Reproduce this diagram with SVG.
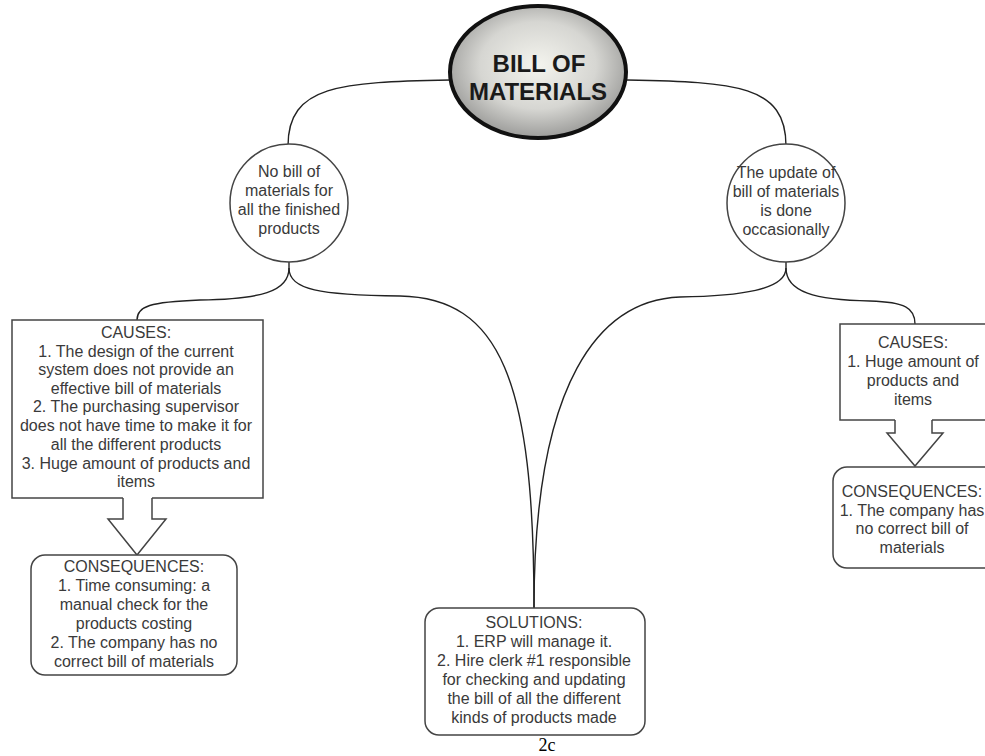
<svg xmlns="http://www.w3.org/2000/svg" width="985" height="756" viewBox="0 0 985 756">
<defs>
<radialGradient id="g" cx="50%" cy="45%" r="55%">
<stop offset="0" stop-color="#f4f4ee"/>
<stop offset="0.6" stop-color="#d6d6d2"/>
<stop offset="1" stop-color="#9c9c9a"/>
</radialGradient>
<style>
.t{font-family:"Liberation Sans",Arial,sans-serif;font-size:16px;fill:#3a3a3a;text-anchor:middle}
.title{font-family:"Liberation Sans",Arial,sans-serif;font-size:24px;font-weight:bold;fill:#1a1a1a;text-anchor:middle}
.box{fill:#fff;stroke:#444;stroke-width:1.5}
.c{fill:none;stroke:#222;stroke-width:1.4}
.arr{fill:#fff;stroke:#444;stroke-width:1.5;stroke-linejoin:miter}
</style>
</defs>
<rect width="985" height="756" fill="#fff"/>
<g id="connectors">
<path class="c" d="M450,80 C340,82 288,85 288,146"/>
<path class="c" d="M627,80 C736,82 786,85 786,146"/>
<path class="c" d="M289,262 L289,268 C289,292 260,299 200,300 C150,302 137,306 137,320"/>
<path class="c" d="M289,268 C289,290 320,295 400,296 C500,298 534,380 534,608"/>
<path class="c" d="M786,262 L786,268 C786,290 740,296 680,297 C600,300 534,380 534,608"/>
<path class="c" d="M786,268 C786,292 815,300 870,301 C905,302 915,308 915,324"/>
</g>
<g id="title">
<ellipse cx="538" cy="72" rx="88" ry="66" fill="url(#g)" stroke="#111" stroke-width="4"/>
<text class="title" x="539" y="72">BILL OF</text>
<text class="title" x="538" y="100">MATERIALS</text>
</g>
<g id="node-left">
<circle cx="289" cy="203" r="59" class="box"/>
<text class="t" x="289" y="177">No bill of</text>
<text class="t" x="289" y="196">materials for</text>
<text class="t" x="289" y="215">all the finished</text>
<text class="t" x="289" y="234">products</text>
</g>
<g id="node-right">
<circle cx="786" cy="203" r="59" class="box"/>
<text class="t" x="786" y="178">The update of</text>
<text class="t" x="786" y="197">bill of materials</text>
<text class="t" x="786" y="216">is done</text>
<text class="t" x="786" y="235">occasionally</text>
</g>
<g id="causes-left">
<rect x="12" y="320" width="251" height="178" class="box"/>
<text class="t" x="136" y="338">CAUSES:</text>
<text class="t" x="136" y="357">1. The design of the current</text>
<text class="t" x="136" y="375">system does not provide an</text>
<text class="t" x="136" y="394">effective bill of materials</text>
<text class="t" x="136" y="412">2. The purchasing supervisor</text>
<text class="t" x="136" y="431">does not have time to make it for</text>
<text class="t" x="136" y="450">all the different products</text>
<text class="t" x="136" y="469">3. Huge amount of products and</text>
<text class="t" x="136" y="487">items</text>
</g>
<g id="arrow-left">
<polygon points="123,497 123,519 108,519 137,555 166,519 152,519 152,497" fill="#fff" stroke="none"/>
<polyline class="arr" points="123,498 123,519 108,519 137,555 166,519 152,519 152,498" fill="none"/>
</g>
<g id="consequences-left">
<rect x="31" y="555" width="206" height="120" rx="14" class="box"/>
<text class="t" x="134" y="572">CONSEQUENCES:</text>
<text class="t" x="134" y="591">1. Time consuming: a</text>
<text class="t" x="134" y="610">manual check for the</text>
<text class="t" x="134" y="629">products costing</text>
<text class="t" x="134" y="648">2. The company has no</text>
<text class="t" x="134" y="667">correct bill of materials</text>
</g>
<g id="solutions">
<rect x="425" y="608" width="220" height="127" rx="14" class="box"/>
<text class="t" x="534" y="628">SOLUTIONS:</text>
<text class="t" x="534" y="647">1. ERP will manage it.</text>
<text class="t" x="534" y="666">2. Hire clerk #1 responsible</text>
<text class="t" x="534" y="685">for checking and updating</text>
<text class="t" x="534" y="704">the bill of all the different</text>
<text class="t" x="534" y="723">kinds of products made</text>
</g>
<g id="causes-right">
<rect x="840" y="324" width="160" height="96" class="box"/>
<text class="t" x="913" y="348">CAUSES:</text>
<text class="t" x="913" y="367">1. Huge amount of</text>
<text class="t" x="913" y="386">products and</text>
<text class="t" x="913" y="405">items</text>
</g>
<g id="arrow-right">
<polygon points="895,419 895,433 887,433 915,466 943,433 932,433 932,419" fill="#fff" stroke="none"/>
<polyline class="arr" points="895,420 895,433 887,433 915,466 943,433 932,433 932,420" fill="none"/>
</g>
<g id="consequences-right">
<rect x="833" y="467" width="170" height="101" rx="14" class="box"/>
<text class="t" x="912" y="497">CONSEQUENCES:</text>
<text class="t" x="912" y="516">1. The company has</text>
<text class="t" x="912" y="534">no correct bill of</text>
<text class="t" x="912" y="553">materials</text>
</g>
<text x="547" y="751" font-family="'Liberation Serif','Times New Roman',serif" font-size="18" fill="#000" text-anchor="middle">2c</text>
</svg>
